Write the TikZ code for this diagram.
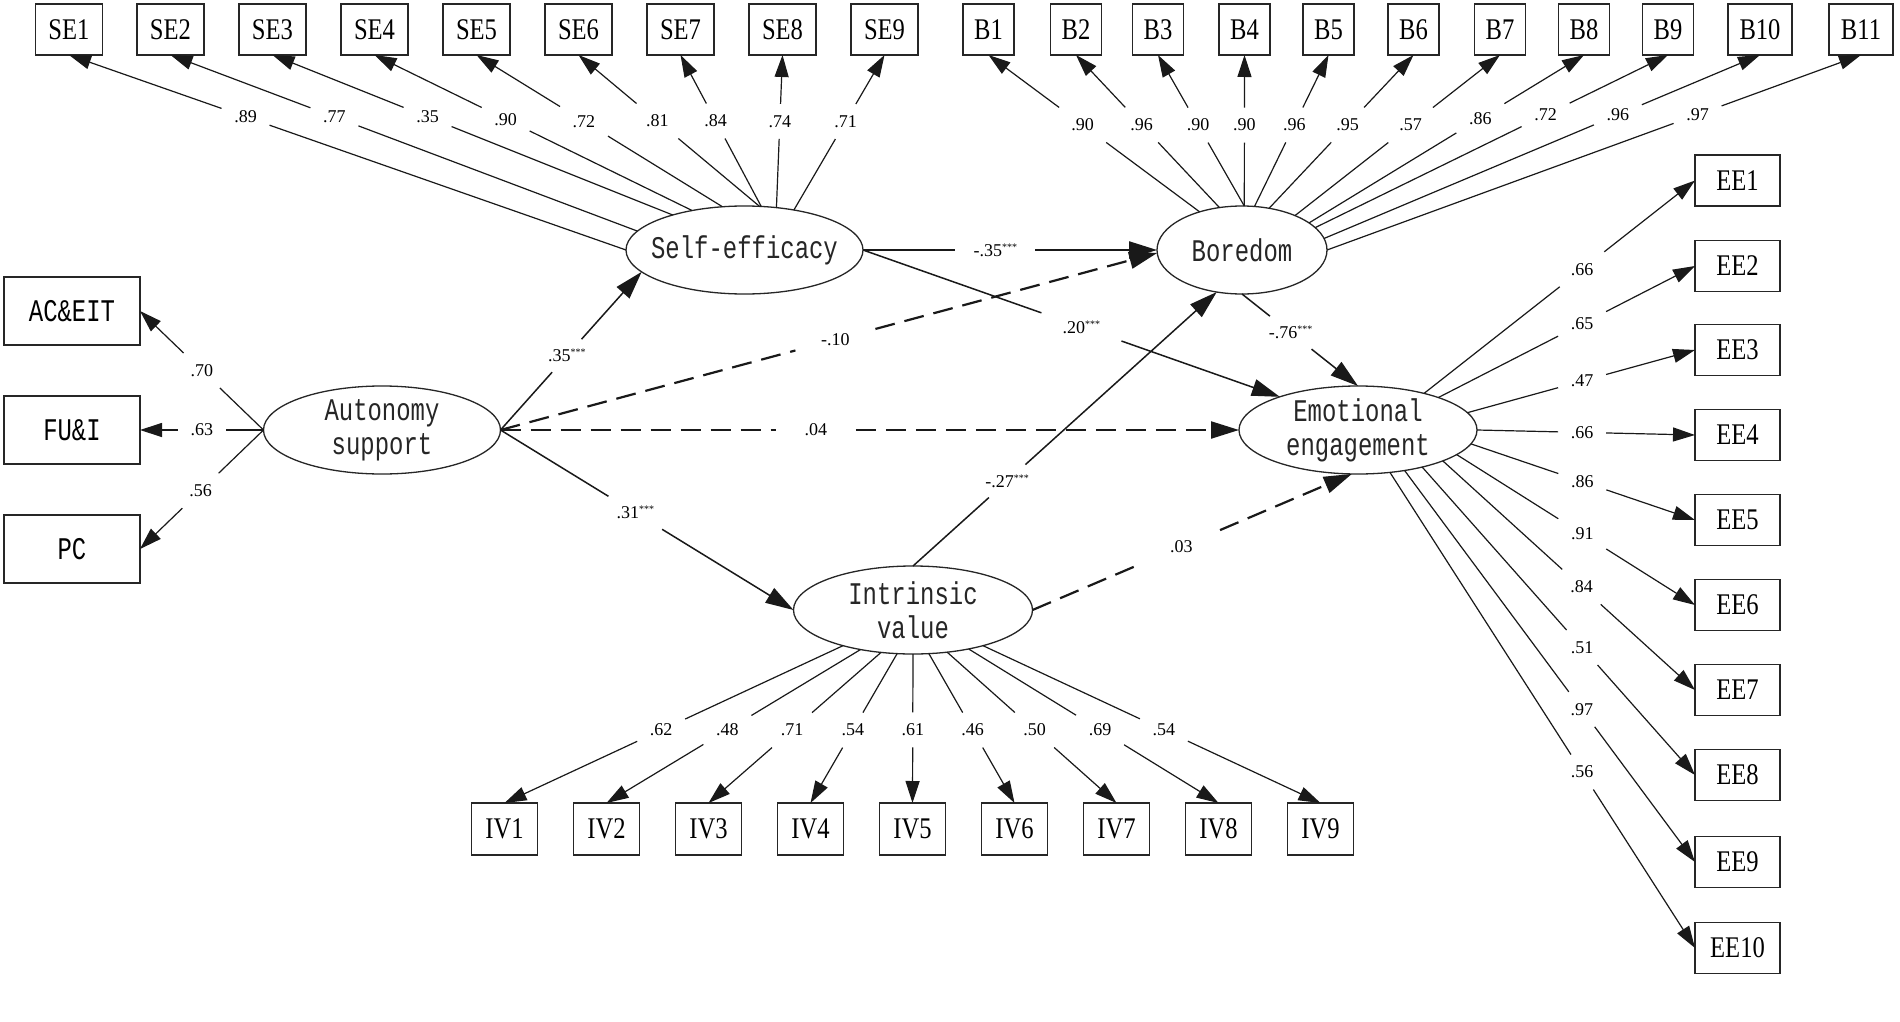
\documentclass[tikz,border=0pt]{standalone}
\usepackage{fontspec}
\setmainfont{Liberation Serif}
\newfontfamily\boxfont[FakeStretch=0.82]{Liberation Serif}
\newfontfamily\lvfont[FakeStretch=0.76]{Liberation Mono}
\usetikzlibrary{arrows.meta,shapes.geometric,calc}
\newcommand\sig{\raisebox{6pt}{\fontsize{10}{10}\selectfont ***}}
\tikzset{
 obs/.style={draw=black!85, line width=1.3pt, rectangle, minimum height=51pt, inner sep=0pt, outer sep=0pt, font=\boxfont\fontsize{30}{30}\selectfont},
 obsl/.style={obs, minimum width=136pt, minimum height=68pt, font=\lvfont\fontsize{31.5}{34}\selectfont},
 latent/.style={ellipse, draw=black!85, line width=1.3pt, minimum width=237pt, minimum height=88pt, inner sep=0pt, outer sep=0pt},
 lvtext/.style={font=\lvfont\fontsize{31.5}{34}\selectfont, align=center, inner sep=0pt, text=black!85},
 lab/.style={font=\fontsize{18}{18}\selectfont, minimum width=48pt, minimum height=35pt, inner sep=0pt, outer sep=0pt},
 plab/.style={lab, minimum width=80pt, minimum height=33pt},
 ld/.style={line width=1.2pt, draw=black!90},
 st/.style={line width=1.5pt, draw=black!90},
 stk/.style={line width=2.3pt, draw=black!90},
 dsh/.style={line width=2.2pt, draw=black!90, dash pattern=on 20pt off 10pt},
}
\newcommand\mkld[5]{\path ($(#1)!#3!(#2)$) node[lab] (#5) {#4};
  \draw[ld] (#1) -- (#5);
  \draw[ld,-{Triangle[length=22pt,width=14pt]}] (#5) -- (#2);}
\newcommand\mkst[6]{\path ($(#1)!#3!(#2)$) node[plab] (#5) {#4};
  \draw[#6] (#1) -- (#5);
  \draw[#6,-{Triangle[length=28pt,width=17pt]}] (#5) -- (#2);}
\begin{document}
\begin{tikzpicture}[x=1pt,y=-1pt]
\useasboundingbox (0,0) rectangle (1900,1022);
\fill[white] (0,0) rectangle (1900,1022);
% SE boxes
\node[obs,minimum width=67pt] (se1) at (69,29.5) {SE1};
\node[obs,minimum width=67pt] (se2) at (170.5,29.5) {SE2};
\node[obs,minimum width=67pt] (se3) at (272.5,29.5) {SE3};
\node[obs,minimum width=67pt] (se4) at (374.5,29.5) {SE4};
\node[obs,minimum width=67pt] (se5) at (476.5,29.5) {SE5};
\node[obs,minimum width=67pt] (se6) at (578.5,29.5) {SE6};
\node[obs,minimum width=67pt] (se7) at (680.5,29.5) {SE7};
\node[obs,minimum width=67pt] (se8) at (782.5,29.5) {SE8};
\node[obs,minimum width=67pt] (se9) at (884.5,29.5) {SE9};
% B boxes
\node[obs,minimum width=51pt] (b1) at (988.5,29.5) {B1};
\node[obs,minimum width=51pt] (b2) at (1076,29.5) {B2};
\node[obs,minimum width=51pt] (b3) at (1158,29.5) {B3};
\node[obs,minimum width=51pt] (b4) at (1244.5,29.5) {B4};
\node[obs,minimum width=51pt] (b5) at (1328.5,29.5) {B5};
\node[obs,minimum width=51pt] (b6) at (1413.5,29.5) {B6};
\node[obs,minimum width=51pt] (b7) at (1500,29.5) {B7};
\node[obs,minimum width=51pt] (b8) at (1584,29.5) {B8};
\node[obs,minimum width=51pt] (b9) at (1668,29.5) {B9};
\node[obs,minimum width=64pt] (b10) at (1760,29.5) {B10};
\node[obs,minimum width=64pt] (b11) at (1861,29.5) {B11};
% IV boxes
\node[obs,minimum width=66pt,minimum height=52pt] (iv1) at (504.5,829) {IV1};
\node[obs,minimum width=66pt,minimum height=52pt] (iv2) at (606.5,829) {IV2};
\node[obs,minimum width=66pt,minimum height=52pt] (iv3) at (708.5,829) {IV3};
\node[obs,minimum width=66pt,minimum height=52pt] (iv4) at (810.5,829) {IV4};
\node[obs,minimum width=66pt,minimum height=52pt] (iv5) at (912.5,829) {IV5};
\node[obs,minimum width=66pt,minimum height=52pt] (iv6) at (1014.5,829) {IV6};
\node[obs,minimum width=66pt,minimum height=52pt] (iv7) at (1116.5,829) {IV7};
\node[obs,minimum width=66pt,minimum height=52pt] (iv8) at (1218.5,829) {IV8};
\node[obs,minimum width=66pt,minimum height=52pt] (iv9) at (1320.5,829) {IV9};
% EE boxes
\node[obs,minimum width=85pt] (ee1) at (1737.5,180.5) {EE1};
\node[obs,minimum width=85pt] (ee2) at (1737.5,266) {EE2};
\node[obs,minimum width=85pt] (ee3) at (1737.5,350) {EE3};
\node[obs,minimum width=85pt] (ee4) at (1737.5,435) {EE4};
\node[obs,minimum width=85pt] (ee5) at (1737.5,520) {EE5};
\node[obs,minimum width=85pt] (ee6) at (1737.5,605) {EE6};
\node[obs,minimum width=85pt] (ee7) at (1737.5,690) {EE7};
\node[obs,minimum width=85pt] (ee8) at (1737.5,775) {EE8};
\node[obs,minimum width=85pt] (ee9) at (1737.5,862) {EE9};
\node[obs,minimum width=85pt] (ee10) at (1737.5,948) {EE10};
% left boxes
\node[obsl] (ac) at (72,311) {AC\&EIT};
\node[obsl] (fu) at (72,430) {FU\&I};
\node[obsl] (pc) at (72,549) {PC};
% latents
\node[latent] (au) at (382,430) {};
\node[lvtext] (aut) at (au) {Autonomy\\support};
\node[latent] (se) at (744.5,250) {};
\node[lvtext] (set) at (se) {Self-efficacy};
\node[latent,minimum width=170pt] (bo) at (1242,250) {};
\node[lvtext] (bot) at (bo) {Boredom};
\node[latent,minimum width=238pt] (ee) at (1358,430) {};
\node[lvtext] (eet) at (ee) {Emotional\\engagement};
\node[latent,minimum width=239pt] (iv) at (913,610) {};
\node[lvtext] (ivt) at (iv) {Intrinsic\\value};
% SE loadings
\mkld{se.180}{se1.south}{0.683}{.89}{lse1}
\mkld{se.170}{se2.south}{0.649}{.77}{lse2}
\mkld{se.154}{se3.south}{0.6125}{.35}{lse3}
\mkld{se.143}{se4.south}{0.587}{.90}{lse4}
\mkld{se.117}{se5.south}{0.563}{.72}{lse5}
\mkld{se.71}{se6.south}{0.564}{.81}{lse6}
\mkld{se.69}{se7.south}{0.564}{.84}{lse7}
\mkld{se.53}{se8.south}{0.565}{.74}{lse8}
\mkld{se.39}{se9.south}{0.571}{.71}{lse9}
% B loadings
\mkld{bo.138}{b1.south}{0.554}{.90}{lb1}
\mkld{bo.118}{b2.south}{0.542}{.96}{lb2}
\mkld{bo.87}{b3.south}{0.536}{.90}{lb3}
\mkld{bo.87}{b4.south}{0.536}{.90}{lb4}
\mkld{bo.74}{b5.south}{0.538}{.96}{lb5}
\mkld{bo.57}{b6.south}{0.544}{.95}{lb6}
\mkld{bo.33}{b7.south}{0.564}{.57}{lb7}
\mkld{bo.22}{b8.south}{0.623}{.86}{lb8}
\mkld{bo.17}{b9.south}{0.653}{.72}{lb9}
\mkld{bo.8}{b10.south}{0.674}{.96}{lb10}
\mkld{bo.0}{b11.south}{0.694}{.97}{lb11}
% IV loadings
\mkld{iv.207}{iv1.north}{0.537}{.62}{liv1}
\mkld{iv.217}{iv2.north}{0.524}{.48}{liv2}
\mkld{iv.233}{iv3.north}{0.516}{.71}{liv3}
\mkld{iv.250}{iv4.north}{0.512}{.54}{liv4}
\mkld{iv.270}{iv5.north}{0.51}{.61}{liv5}
\mkld{iv.290}{iv6.north}{0.512}{.46}{liv6}
\mkld{iv.309}{iv7.north}{0.516}{.50}{liv7}
\mkld{iv.325}{iv8.north}{0.526}{.69}{liv8}
\mkld{iv.333}{iv9.north}{0.536}{.54}{liv9}
% EE loadings
\mkld{ee.29}{ee1.west}{0.583}{.66}{lee1}
\mkld{ee.22}{ee2.west}{0.56}{.65}{lee2}
\mkld{ee.9}{ee3.west}{0.504}{.47}{lee3}
\mkld{ee.0}{ee4.west}{0.482}{.66}{lee4}
\mkld{ee.353}{ee5.west}{0.497}{.86}{lee5}
\mkld{ee.346}{ee6.west}{0.527}{.91}{lee6}
\mkld{ee.340}{ee7.west}{0.55}{.84}{lee7}
\mkld{ee.330}{ee8.west}{0.586}{.51}{lee8}
\mkld{ee.319}{ee9.west}{0.61}{.97}{lee9}
\mkld{ee.307}{ee10.west}{0.63}{.56}{lee10}
% autonomy loadings
\mkld{au.west}{ac.east}{0.5}{.70}{lac}
\mkld{au.west}{fu.east}{0.5}{.63}{lfu}
\mkld{au.west}{pc.east}{0.51}{.56}{lpc}
% structural paths
\mkst{au.east}{se.192}{0.47}{.35\sig}{pase}{st}
\mkst{au.east}{iv.west}{0.46}{.31\sig}{pauiv}{st}
\mkst{au.east}{bo.182}{0.51}{-.10}{paubo}{dsh}
\mkst{au.east}{ee.west}{0.427}{.04}{pauee}{dsh}
\mkst{se.east}{bo.west}{0.45}{-.35\sig}{psebo}{stk}
\mkst{se.east}{ee.157}{0.524}{.20\sig}{psee}{st}
\mkst{bo.south}{ee.north}{0.42}{-.76\sig}{pboee}{st}
\mkst{iv.north}{bo.239}{0.31}{-.27\sig}{pivbo}{st}
\mkst{iv.east}{ee.262}{0.466}{.03}{pivee}{dsh}
\end{tikzpicture}
\end{document}
